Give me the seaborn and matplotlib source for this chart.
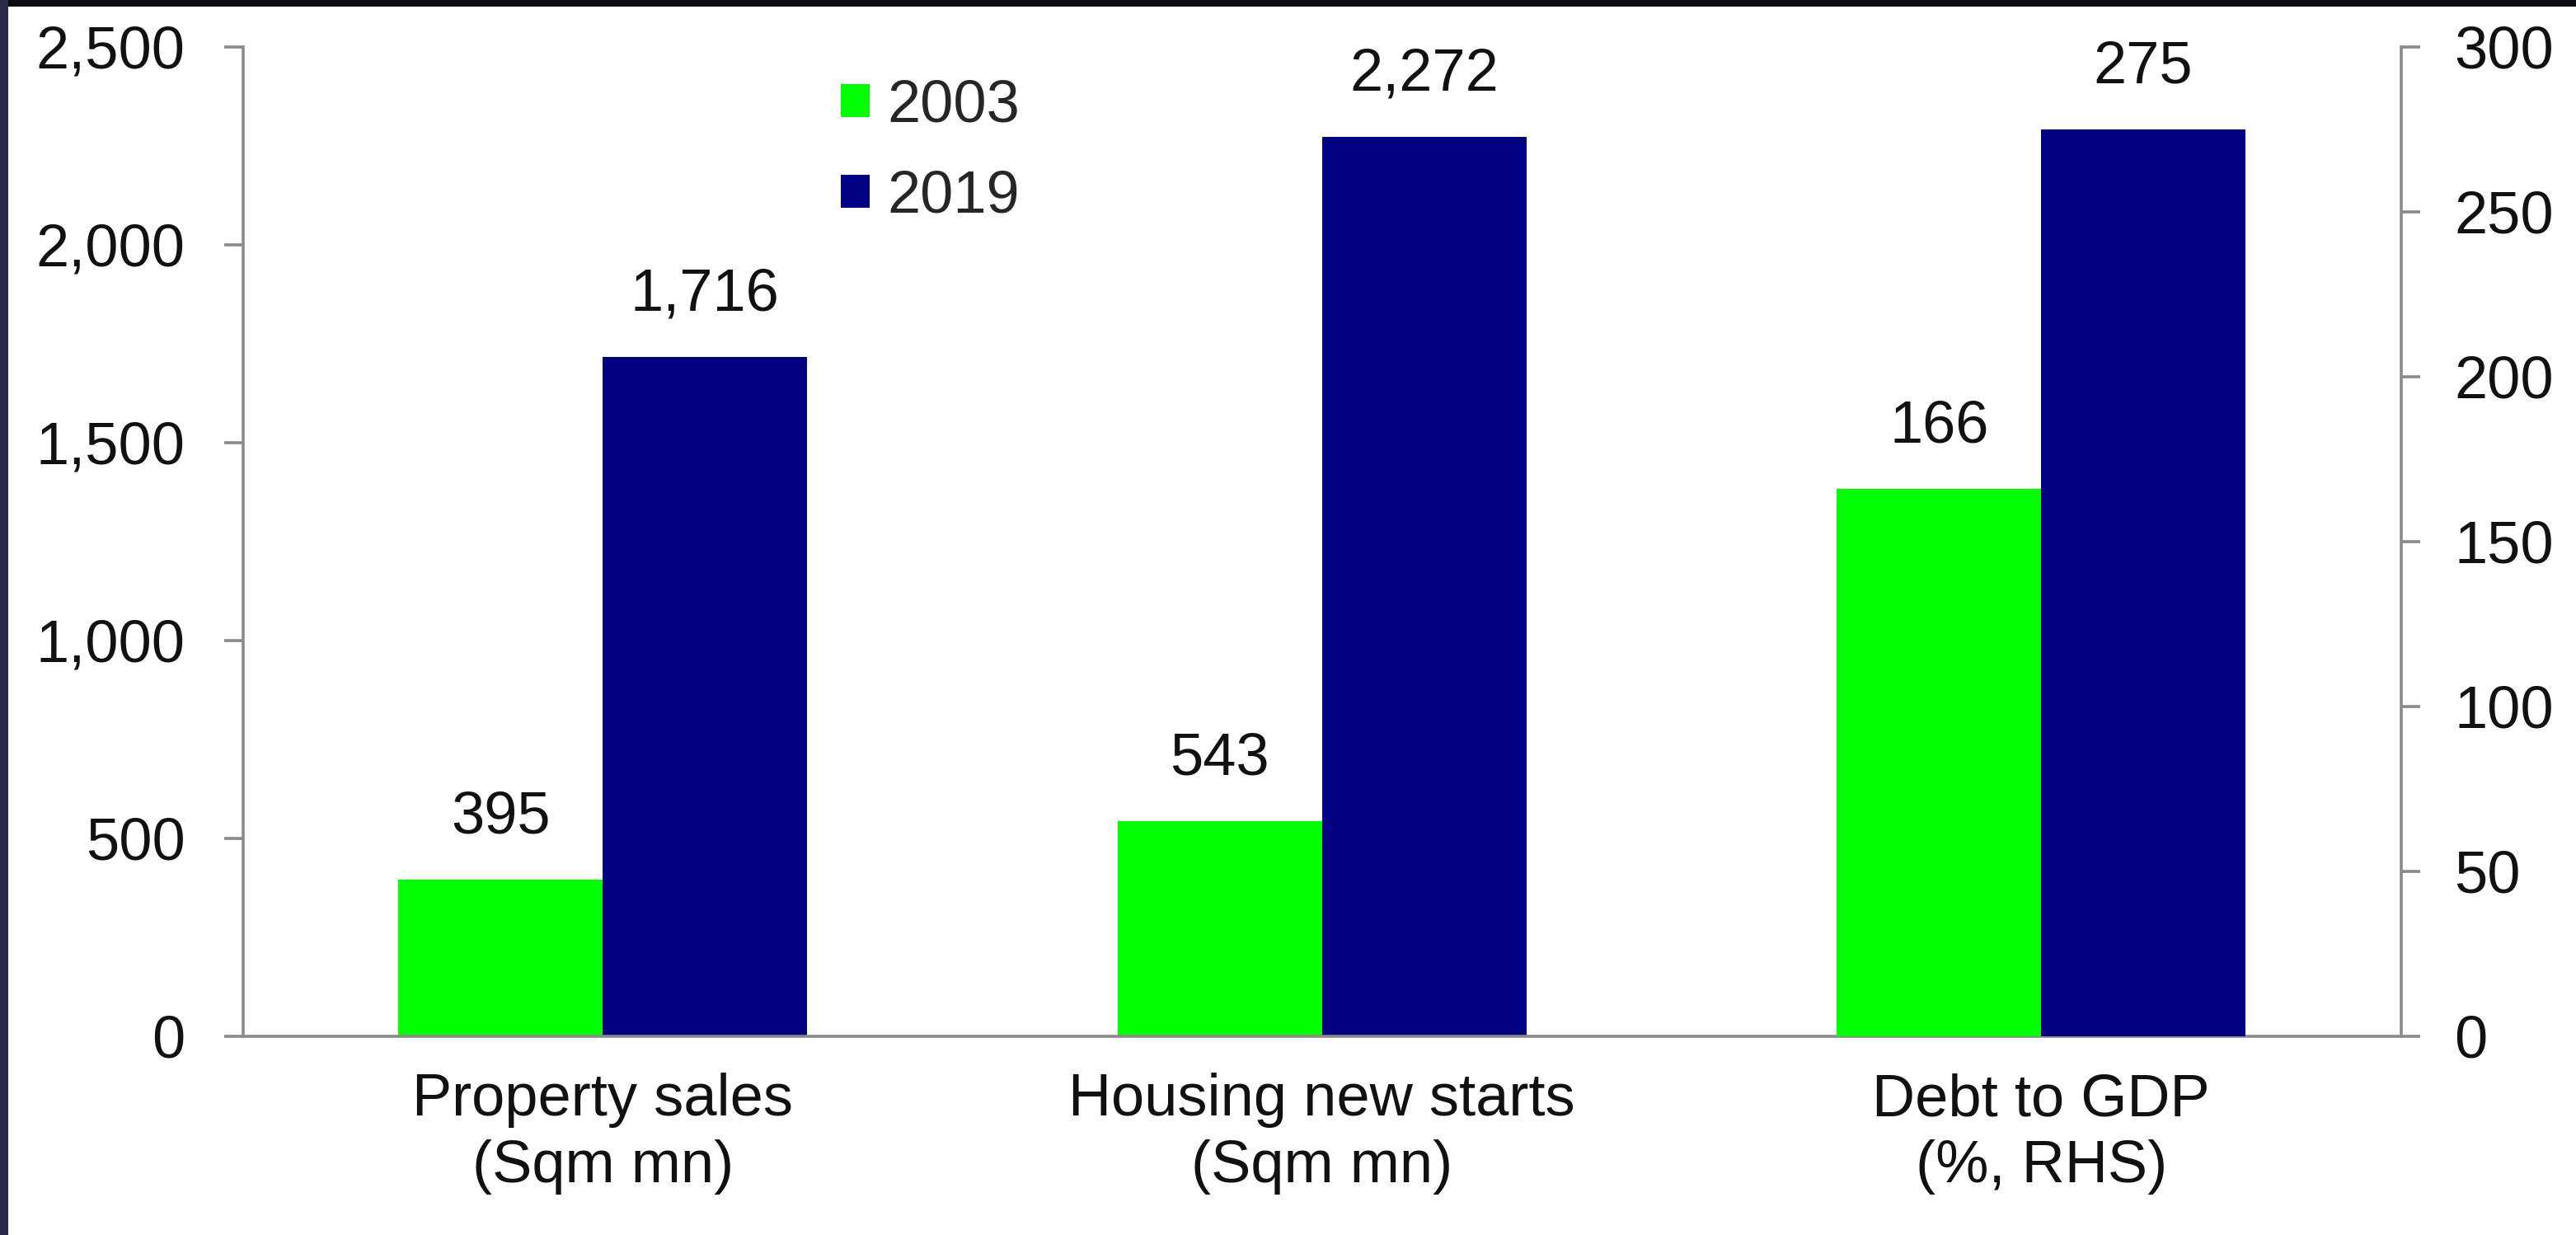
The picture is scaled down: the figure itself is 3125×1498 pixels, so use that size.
import matplotlib
matplotlib.use("Agg")
import matplotlib.pyplot as plt
from matplotlib.patches import Patch, Rectangle
from matplotlib.ticker import FixedLocator, FuncFormatter
import seaborn as sns
import pandas as pd

# Chart data
categories = ["Property sales\n(Sqm mn)", "Housing new starts\n(Sqm mn)", "Debt to GDP\n(%, RHS)"]
years = ["2003", "2019"]
values_2003 = [395, 543, 166]
values_2019 = [1716, 2272, 275]
left_ticks = [0, 500, 1000, 1500, 2000, 2500]
right_ticks = [0, 50, 100, 150, 200, 250, 300]

colors = {"2003": "#00FF00", "2019": "#000080"}
axis_gray = "#8a8a8a"

df = pd.DataFrame({
    "category": categories * 2,
    "year": [years[0]] * 3 + [years[1]] * 3,
    "value": values_2003 + values_2019,
})
rhs_cat = categories[2]
df_left = df[df["category"] != rhs_cat]
df_right = df[df["category"] == rhs_cat]

sns.set_style("white")
plt.rcParams["font.family"] = ["Liberation Sans", "DejaVu Sans"]
FS = 52

fig = plt.figure(figsize=(31.25, 14.98), dpi=100)
fig.patch.set_facecolor("white")
ax = fig.add_axes([0.0944, 0.1609, 0.8376, 0.8011])
ax2 = ax.twinx()

bar_kw = dict(x="category", y="value", hue="year", order=categories,
              hue_order=years, palette=colors, width=0.568, saturation=1,
              errorbar=None, legend=False, linewidth=0)
sns.barplot(data=df_left, ax=ax, **bar_kw)
sns.barplot(data=df_right, ax=ax2, **bar_kw)

for a in (ax, ax2):
    a.set_xlim(-0.5, 2.5)
    a.set_xlabel("")
    a.set_ylabel("")
    a.grid(False)
    a.set_facecolor("none")
    for s in a.spines.values():
        s.set_visible(False)

ax.set_ylim(0, 2500)
ax2.set_ylim(0, 300)
ax.yaxis.set_major_locator(FixedLocator(left_ticks))
ax.yaxis.set_major_formatter(FuncFormatter(lambda v, p: f"{v:,.0f}"))
ax2.yaxis.set_major_locator(FixedLocator(right_ticks))
ax2.yaxis.set_major_formatter(FuncFormatter(lambda v, p: f"{v:,.0f}"))

ax.spines["left"].set_visible(True)
ax.spines["bottom"].set_visible(True)
ax2.spines["right"].set_visible(True)
for s in (ax.spines["left"], ax.spines["bottom"], ax2.spines["right"]):
    s.set_color(axis_gray)
    s.set_linewidth(2.6)

# category labels centred, boundary ticks between groups
ax.set_xticks(range(len(categories)))
ax.set_xticklabels(categories, fontsize=FS, linespacing=1.27)
ax.set_xticks([-0.5, 0.5, 1.5, 2.5], minor=True)
ax.tick_params(axis="x", which="major", length=0, pad=32, colors="#111111")
ax.tick_params(axis="x", which="minor", length=16.5, width=2.6, direction="out",
               color=axis_gray)
ax2.tick_params(axis="x", which="both", length=0, labelbottom=False)

ax.tick_params(axis="y", which="major", length=16.5, width=2.6, direction="out",
               color=axis_gray, labelsize=FS, labelcolor="#111111", pad=34,
               left=True, right=False)
ax2.tick_params(axis="y", which="major", length=16.5, width=2.6, direction="out",
                color=axis_gray, labelsize=FS, labelcolor="#111111", pad=30,
                right=True, left=False)

# value labels above the bars
for a in (ax, ax2):
    for cont in a.containers:
        a.bar_label(cont, fmt="{:,.0f}", padding=30, fontsize=FS, color="#111111")

handles = [Patch(facecolor=colors[y], edgecolor="none", label=y) for y in years]
fig.legend(handles=handles, loc="center left", bbox_to_anchor=(0.3264, 0.877),
           frameon=False, fontsize=FS, borderpad=0, borderaxespad=0,
           handlelength=0.48, handleheight=0.48, handletextpad=0.3,
           labelspacing=0.59)

# dark frame strips along the top and left edges
fig.patches.append(Rectangle((0, 1 - 8 / 1498), 1, 8 / 1498, transform=fig.transFigure,
                             facecolor="#0b0b14", edgecolor="none", zorder=10))
fig.patches.append(Rectangle((0, 0), 10 / 3125, 1, transform=fig.transFigure,
                             facecolor="#2a2a48", edgecolor="none", zorder=10))

fig.savefig("out.png", dpi=100, facecolor="white")
